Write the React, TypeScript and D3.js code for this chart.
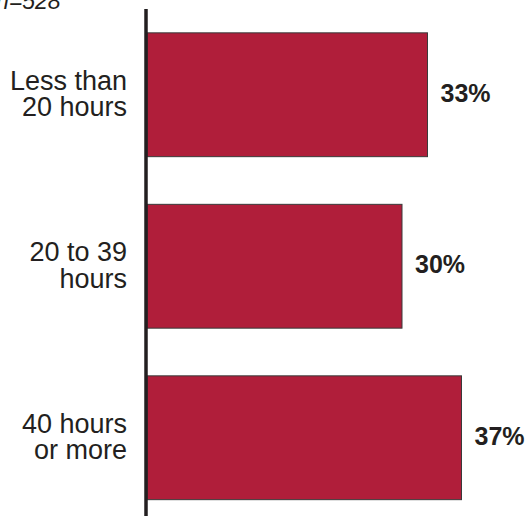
import React from "react";
import * as d3 from "d3";

const categories: string[][] = [["Less than", "20 hours"], ["20 to 39", "hours"], ["40 hours", "or more"]];
const values: number[] = [33, 30, 37];
const valueLabels: string[] = ["33%", "30%", "37%"];
const noteText = "n=528";

const W = 530;
const H = 516;

export default function App() {
  const y = d3.scaleBand<number>().domain(d3.range(categories.length)).range([9, 523.5]).paddingInner(0.278).paddingOuter(0.139);
  const x = d3.scaleLinear().domain([0, 40]).range([147, 487]);
  const font = "'Liberation Sans', Arial, Helvetica, sans-serif";
  return (
    <svg width={W} height={H} style={{ position: "absolute", left: 0, top: 0, display: "block" }} fontFamily={font}>
      <text x={-4} y={9} fontSize={23} fontStyle="italic" fill="#231f20">{noteText}</text>
      {values.map((v, i) => {
        const y0 = y(i)!;
        const bh = y.bandwidth();
        const cy = y0 + bh / 2;
        return (
          <g key={i}>
            <rect x={x(0)} y={y0} width={x(v) - x(0)} height={bh} fill="#b01e3a" stroke="#3a3a3a" strokeWidth={1} />
            <text x={x(v) + 13} y={cy + 7} fontSize={25} fontWeight="bold" fill="#231f20">{valueLabels[i]}</text>
            <text textAnchor="end" fontSize={27} fill="#231f20">
              <tspan x={127} y={cy - 5}>{categories[i][0]}</tspan>
              <tspan x={127} y={cy + 21.5}>{categories[i][1]}</tspan>
            </text>
          </g>
        );
      })}
      <line x1={146} x2={146} y1={9} y2={H} stroke="#231f20" strokeWidth={3.5} />
    </svg>
  );
}
